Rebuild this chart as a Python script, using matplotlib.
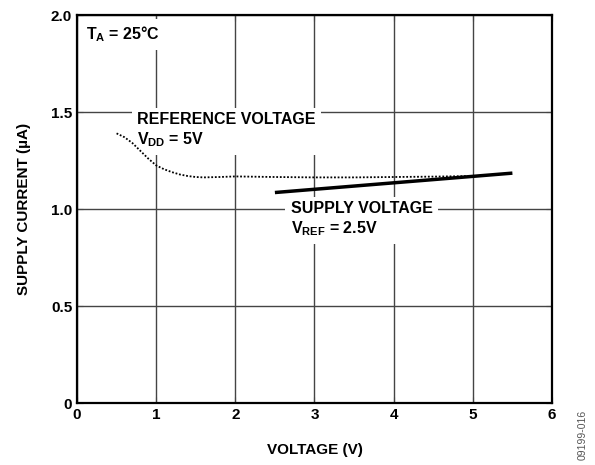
import matplotlib
matplotlib.use("Agg")
import matplotlib.pyplot as plt

plt.rcParams['font.family'] = 'Liberation Sans'
plt.rcParams['font.weight'] = 'bold'
plt.rcParams['mathtext.fontset'] = 'custom'
plt.rcParams['mathtext.bf'] = 'Liberation Sans:bold'
plt.rcParams['mathtext.rm'] = 'Liberation Sans:bold'
plt.rcParams['mathtext.default'] = 'bf'

# reference voltage curve (dotted)
ref_v = [0.5, 0.6, 0.7, 0.8, 0.9, 1.0, 1.1, 1.2, 1.3, 1.4, 1.5, 1.6, 1.8, 2.0, 2.5, 3.0, 3.5, 4.0, 4.5, 5.0]
ref_i = [1.39, 1.37, 1.34, 1.30, 1.26, 1.225, 1.205, 1.19, 1.178, 1.17, 1.165, 1.163, 1.165, 1.168, 1.165, 1.163, 1.163, 1.165, 1.167, 1.17]

# supply voltage curve (solid)
sup_v = [2.5, 5.5]
sup_i = [1.085, 1.185]

xticks = [0, 1, 2, 3, 4, 5, 6]
yticks = [0, 0.5, 1.0, 1.5, 2.0]
ytick_labels = ["0", "0.5", "1.0", "1.5", "2.0"]

fig = plt.figure(figsize=(5.95, 4.65), dpi=100)
ax = fig.add_axes([0.1294, 0.1333, 0.7983, 0.8344])

ax.plot(ref_v, ref_i, color='black', lw=1.3, linestyle=(0, (1, 1)), zorder=2)
ax.plot(sup_v, sup_i, color='black', lw=2.5, solid_capstyle='butt', zorder=2)

ax.set_xlim(0, 6)
ax.set_ylim(0, 2.0)
ax.set_xticks(xticks)
ax.set_yticks(yticks)
ax.set_yticklabels(ytick_labels)
ax.grid(True, color='#444444', lw=1.0, zorder=0)
ax.set_axisbelow(True)
ax.tick_params(direction='in', length=4, labelsize=11, top=True, right=True, color='#444444')
for s in ax.spines.values():
    s.set_linewidth(1.6)
    s.set_zorder(3)

ax.set_xlabel('VOLTAGE (V)', fontsize=11, fontweight='bold', labelpad=15)
ax.set_ylabel('SUPPLY CURRENT (µA)', fontsize=11, fontweight='bold', labelpad=14)

# white boxes hide the grid behind the labels but stay under the curves
box = dict(facecolor='white', edgecolor='none', pad=4)
ax.text(0.12, 1.95, 'T$_{A}$ = 25°C', fontsize=11.5, fontweight='bold',
        va='top', ha='left', bbox=box, zorder=1.5)
ax.text(0.76, 1.50, 'REFERENCE VOLTAGE\nV$_{DD}$ = 5V', fontsize=11.5, fontweight='bold',
        va='top', ha='left', linespacing=1.25, bbox=box, zorder=1.5)
ax.text(2.7, 1.04, 'SUPPLY VOLTAGE\nV$_{REF}$ = 2.5V', fontsize=11.5, fontweight='bold',
        va='top', ha='left', linespacing=1.25, bbox=box, zorder=1.5)

fig.text(0.98, 0.065, '09199-016', rotation=90, fontsize=7.5, color='#555555',
         fontweight='normal', ha='center', va='center')

fig.savefig('out.png', dpi=100)
